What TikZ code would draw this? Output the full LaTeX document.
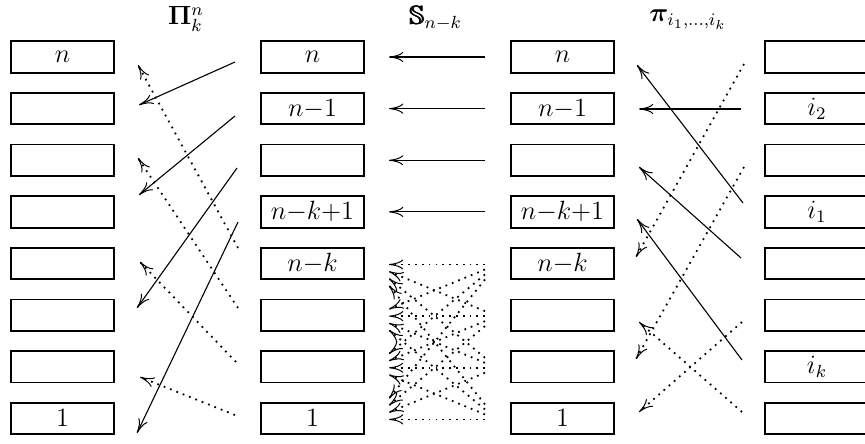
\documentclass[tikz,border=0pt]{standalone}
\usepackage{amsmath,amssymb,bm}
\usetikzlibrary{arrows.meta}
\begin{document}
\begin{tikzpicture}[x=0.4545pt,y=-0.4545pt,
  every node/.style={font=\fontsize{12}{14}\selectfont},
  >={To[length=6.5pt,width=4.6pt,line width'=0.45pt]},
  cell/.style={draw,line width=0.8pt,minimum width=47pt,minimum height=14.3pt,inner sep=0pt,outer sep=0pt},
  head/.style={anchor=base,inner sep=0pt},
  solidarrow/.style={->,line width=0.5pt},
  dotarrow/.style={->,line width=0.8pt,dash pattern=on 0.8pt off 2.3pt}]
\clip (0,0) rectangle (865,443);
% boxes
\foreach \r/\la/\lb/\lc/\ld in {1/{$n$}/{$n$}/{$n$}/{},
  2/{}/{$n{-}1$}/{$n{-}1$}/{$i_2$},
  3/{}/{}/{}/{},
  4/{}/{$n{-}k{+}1$}/{$n{-}k{+}1$}/{$i_1$},
  5/{}/{$n{-}k$}/{$n{-}k$}/{},
  6/{}/{}/{}/{},
  7/{}/{}/{}/{$i_k$},
  8/{$1$}/{$1$}/{$1$}/{}}{
  \node[cell] (a\r) at (62.5,{57+51.64*(\r-1)}) {\la};
  \node[cell] (b\r) at (312.5,{57+51.64*(\r-1)}) {\lb};
  \node[cell] (c\r) at (562.5,{57+51.64*(\r-1)}) {\lc};
  \node[cell] (d\r) at (817,{57+51.64*(\r-1)}) {\ld};
}
% headers
\node[head] (h1) at (186,25) {$\boldsymbol{\Pi}^n_k$};
\node[head] (h2) at (436,25) {$\pmb{\mathbb{S}}_{n-k}$};
\node[head] (h3) at (688,22) {$\boldsymbol{\pi}_{i_1,\ldots,i_k}$};
% left group
\coordinate (ls1) at (235,62);  \coordinate (le1) at (139,105);
\coordinate (ls2) at (235,116); \coordinate (le2) at (139,195);
\coordinate (ls3) at (237,168); \coordinate (le3) at (137,308);
\coordinate (ls4) at (238,222); \coordinate (le4) at (137,433);
\coordinate (ld1) at (238,248); \coordinate (lf1) at (138,65);
\coordinate (ld2) at (238,308); \coordinate (lf2) at (138,158);
\coordinate (ld3) at (236,362); \coordinate (lf3) at (140,262);
\coordinate (ld4) at (235,415); \coordinate (lf4) at (140,377);
\foreach \i in {1,...,4}{
  \draw[solidarrow] (ls\i) -- (le\i);
  \draw[dotarrow] (ld\i) -- (lf\i);
}
% middle solid
\foreach \r in {1,...,4}{
  \coordinate (ms\r) at (485,{57+51.64*(\r-1)});
  \coordinate (me\r) at (389,{57+51.64*(\r-1)});
  \draw[solidarrow] (ms\r) -- (me\r);
}
% middle dotted fan
\foreach \s in {0,...,3}{
  \foreach \t in {0,...,3}{
    \coordinate (fr\s\t) at (485,{264.5+51.64*\s+5*(\t-\s)});
    \coordinate (fl\s\t) at (389,{264.5+51.64*\t+7*(\s-\t)});
    \draw[dotarrow] (fr\s\t) -- (fl\s\t);
  }
}
% right group
\coordinate (rs1) at (743,203); \coordinate (re1) at (637,65);
\coordinate (rs2) at (741,109); \coordinate (re2) at (639,109);
\coordinate (rs3) at (741,258); \coordinate (re3) at (639,167);
\coordinate (rs4) at (742,360); \coordinate (re4) at (637,219);
\coordinate (rd1) at (744,64);  \coordinate (rf1) at (636,257);
\coordinate (rd2) at (744,167); \coordinate (rf2) at (636,359);
\coordinate (rd3) at (742,322); \coordinate (rf3) at (639,412);
\coordinate (rd4) at (742,412); \coordinate (rf4) at (639,322);
\foreach \i in {1,...,4}{
  \draw[solidarrow] (rs\i) -- (re\i);
  \draw[dotarrow] (rd\i) -- (rf\i);
}
\end{tikzpicture}
\end{document}
